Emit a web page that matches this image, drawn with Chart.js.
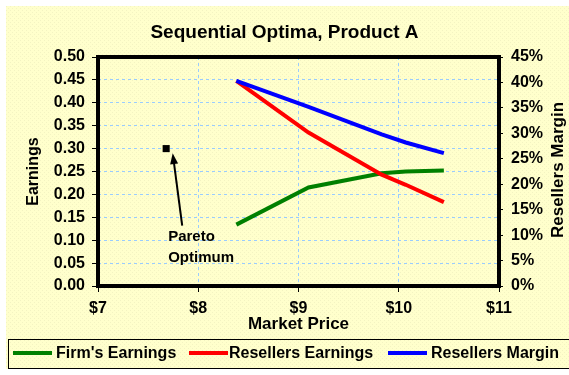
<!DOCTYPE html>
<html>
<head>
<meta charset="utf-8">
<script src="https://cdn.jsdelivr.net/npm/chart.js@4.4.0/dist/chart.umd.min.js"></script>
<style>
  html, body { margin: 0; padding: 0; background: #fff; }
</style>
</head>
<body>
<canvas id="chart" width="569" height="375"></canvas>
<script>
// values
const prices = [8.38, 9.10, 9.83, 10.07, 10.45];
const firmEarnings = [0.134, 0.215, 0.246, 0.250, 0.252];
const resellersEarnings = [0.448, 0.335, 0.243, 0.221, 0.183];
const resellersMargin = [0.403, 0.352, 0.298, 0.282, 0.261];
const paretoPoint = [{ x: 7.68, y: 0.30 }];
const seriesNames = ["Firm's Earnings", 'Resellers Earnings', 'Resellers Margin'];
const seriesColors = ['#008000', '#ff0000', '#0000ff'];

const FONT = "'Liberation Sans', Arial, sans-serif";

function toPoints(ys) {
    return prices.map((p, i) => ({ x: p, y: ys[i] }));
}

function makePattern(ctx) {
    const c = document.createElement('canvas');
    c.width = 4; c.height = 4;
    const p = c.getContext('2d');
    p.fillStyle = '#ffffcc';
    p.fillRect(0, 0, 4, 4);
    p.fillStyle = '#f3f3c2';
    p.fillRect(0, 0, 1, 1);
    p.fillRect(2, 2, 1, 1);
    return ctx.createPattern(c, 'repeat');
}

const decor = {
    id: 'decor',
    beforeDraw(chart) {
        const ctx = chart.ctx;
        ctx.save();
        ctx.fillStyle = '#fff';
        ctx.fillRect(0, 0, chart.width, chart.height);
        ctx.fillStyle = makePattern(ctx);
        ctx.fillRect(6, 6, chart.width - 6, 363);
        ctx.restore();
    },
    afterDatasetsDraw(chart) {
        const { ctx, chartArea: a, scales: { x, y } } = chart;
        ctx.save();
        // thick plot frame
        ctx.strokeStyle = '#000';
        ctx.lineWidth = 4;
        ctx.strokeRect(a.left, a.top, a.right - a.left, a.bottom - a.top);

        // arrow pointing at the pareto optimum
        const tx = x.getPixelForValue(7.84), ty = y.getPixelForValue(0.1317);
        const hx = x.getPixelForValue(7.745), hy = y.getPixelForValue(0.29);
        const ang = Math.atan2(hy - ty, hx - tx);
        ctx.lineWidth = 2;
        ctx.beginPath();
        ctx.moveTo(tx, ty);
        ctx.lineTo(hx - 8 * Math.cos(ang), hy - 8 * Math.sin(ang));
        ctx.stroke();
        ctx.fillStyle = '#000';
        ctx.beginPath();
        ctx.moveTo(hx, hy);
        ctx.lineTo(hx - 11 * Math.cos(ang) + 4 * Math.sin(ang), hy - 11 * Math.sin(ang) - 4 * Math.cos(ang));
        ctx.lineTo(hx - 11 * Math.cos(ang) - 4 * Math.sin(ang), hy - 11 * Math.sin(ang) + 4 * Math.cos(ang));
        ctx.closePath();
        ctx.fill();

        ctx.font = 'bold 15px ' + FONT;
        ctx.textAlign = 'left';
        ctx.textBaseline = 'alphabetic';
        const lx = x.getPixelForValue(7.70);
        ctx.fillText('Pareto', lx, y.getPixelForValue(0.098));
        ctx.fillText('Optimum', lx, y.getPixelForValue(0.052));
        ctx.restore();
    },
    afterDraw(chart) {
        const ctx = chart.ctx;
        ctx.save();
        // right axis title, reading bottom to top
        ctx.font = 'bold 17px ' + FONT;
        ctx.fillStyle = '#000';
        ctx.translate(558, 170);
        ctx.rotate(-Math.PI / 2);
        ctx.textAlign = 'center';
        ctx.textBaseline = 'middle';
        ctx.fillText('Resellers Margin', 0, 0);
        ctx.restore();

        // legend box
        ctx.save();
        ctx.strokeStyle = '#000';
        ctx.lineWidth = 1;
        ctx.strokeRect(8.5, 339.5, chart.width, 29);
        const sampleX = [13, 189, 388];
        const textX = [56, 229, 431];
        ctx.font = 'bold 16px ' + FONT;
        ctx.textBaseline = 'alphabetic';
        ctx.textAlign = 'left';
        chart.data.datasets.forEach((ds, i) => {
            if (!ds.inLegend) return;
            ctx.strokeStyle = ds.borderColor;
            ctx.lineWidth = 4;
            ctx.beginPath();
            ctx.moveTo(sampleX[i], 353);
            ctx.lineTo(sampleX[i] + 39, 353);
            ctx.stroke();
            ctx.fillStyle = '#000';
            ctx.fillText(ds.label, textX[i], 358);
        });
        ctx.restore();
    }
};

const seriesData = [firmEarnings, resellersEarnings, resellersMargin];
const datasets = seriesData.map((vals, i) => ({
    label: seriesNames[i],
    data: toPoints(vals),
    yAxisID: i === 2 ? 'y1' : 'y',
    showLine: true,
    borderColor: seriesColors[i],
    borderWidth: 4,
    pointRadius: 0,
    tension: 0,
    order: 2 - i,
    inLegend: true
}));
datasets.push({
    label: 'Pareto Optimum',
    data: paretoPoint,
    yAxisID: 'y',
    pointStyle: 'rect',
    pointRadius: 5,
    backgroundColor: '#000',
    borderColor: '#000',
    borderWidth: 0,
    inLegend: false
});

const tickFont = { family: FONT, size: 16, weight: 'bold' };

new Chart(document.getElementById('chart'), {
    type: 'scatter',
    data: { datasets: datasets },
    options: {
        responsive: false,
        animation: false,
        layout: { padding: 0 },
        plugins: {
            legend: { display: false },
            tooltip: { enabled: false },
            title: {
                display: true,
                text: 'Sequential Optima, Product A',
                color: '#000',
                font: { family: FONT, size: 19, weight: 'bold' },
                padding: { top: 21, bottom: 13.2 }
            }
        },
        scales: {
            x: {
                type: 'linear',
                min: 7, max: 11,
                afterFit: s => { s.height = 89; },
                ticks: {
                    stepSize: 1,
                    color: '#000',
                    font: tickFont,
                    padding: 7,
                    callback: v => '$' + v
                },
                grid: {
                    color: '#99ccff',
                    lineWidth: 1,
                    tickLength: 6,
                    tickColor: '#000',
                    tickWidth: 1,
                    tickBorderDash: []
                },
                border: { display: false, dash: [3, 3] },
                title: {
                    display: true,
                    text: 'Market Price',
                    color: '#000',
                    font: { family: FONT, size: 17, weight: 'bold' },
                    padding: { top: 0, bottom: 40 }
                }
            },
            y: {
                position: 'left',
                min: 0, max: 0.5,
                afterFit: s => { s.width = 98; },
                ticks: {
                    stepSize: 0.05,
                    color: '#000',
                    font: tickFont,
                    padding: 7,
                    callback: v => v.toFixed(2)
                },
                grid: {
                    color: '#99ccff',
                    lineWidth: 1,
                    tickLength: 6,
                    tickColor: '#000',
                    tickWidth: 1,
                    tickBorderDash: []
                },
                border: { display: false, dash: [3, 3] },
                title: {
                    display: true,
                    text: 'Earnings',
                    color: '#000',
                    font: tickFont,
                    padding: { top: 24, bottom: 0 }
                }
            },
            y1: {
                position: 'right',
                min: 0, max: 0.45,
                afterFit: s => { s.width = 70; },
                ticks: {
                    stepSize: 0.05,
                    color: '#000',
                    font: tickFont,
                    padding: 8,
                    callback: v => Math.round(v * 100) + '%'
                },
                grid: {
                    drawOnChartArea: false,
                    tickLength: 4,
                    tickColor: '#000',
                    tickWidth: 1,
                    tickBorderDash: []
                },
                border: { display: false }
            }
        }
    },
    plugins: [decor]
});
</script>
</body>
</html>
